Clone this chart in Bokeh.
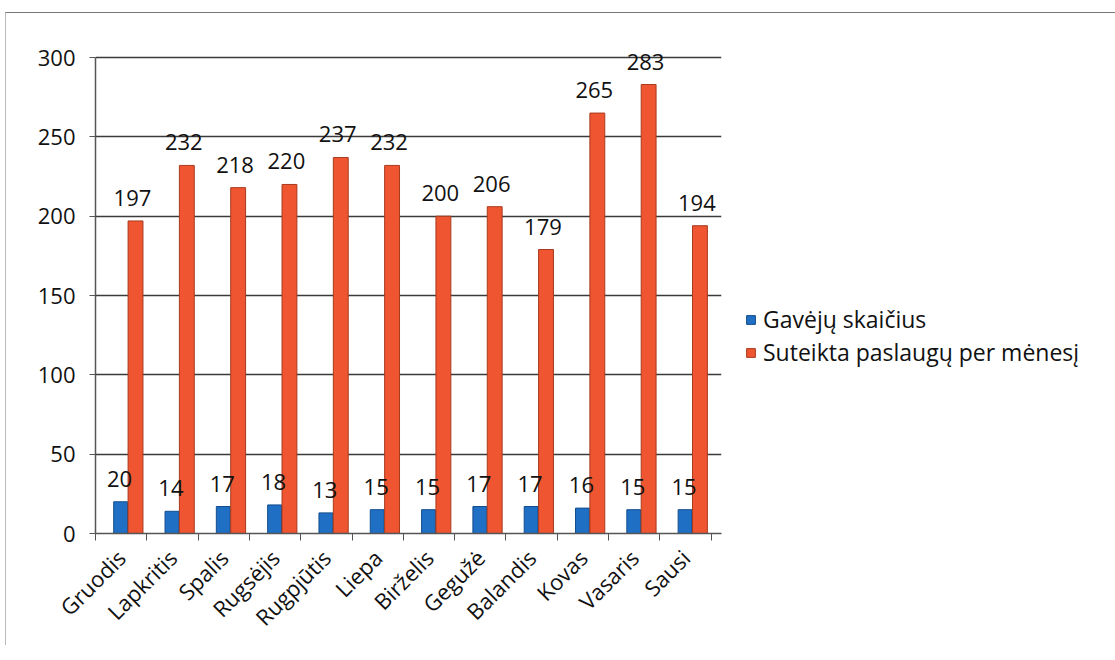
from bokeh.plotting import figure
from bokeh.models import (ColumnDataSource, Range1d, FixedTicker, LabelSet, Legend, LegendItem)
from bokeh.core.properties import value
from bokeh.embed import file_html
from bokeh.resources import INLINE
import math

months = ["Gruodis", "Lapkritis", "Spalis", "Rugsėjis", "Rugpjūtis", "Liepa",
          "Birželis", "Gegužė", "Balandis", "Kovas", "Vasaris", "Sausi"]
recipients = [20, 14, 17, 18, 13, 15, 15, 17, 17, 16, 15, 15]
services = [197, 232, 218, 220, 237, 232, 200, 206, 179, 265, 283, 194]
series_names = ["Gavėjų skaičius", "Suteikta paslaugų per mėnesį"]
y_ticks = [0, 50, 100, 150, 200, 250, 300]

BLUE = "#1f6fc5"
RED = "#ee5530"
FONT = "Open Sans"

n = len(months)
centers = [i + 0.5 for i in range(n)]
xb = [c - 0.01 for c in centers]
xr = [c + 0.28 for c in centers]

src_b = ColumnDataSource(dict(x=xb, lx=[x - 0.02 for x in xb], top=recipients,
                              lab=[str(v) for v in recipients]))
src_r = ColumnDataSource(dict(x=xr, lx=[x - 0.06 for x in xr], top=services,
                              lab=[str(v) for v in services]))

p = figure(frame_width=626, frame_height=495, output_backend="svg", toolbar_location=None,
           x_range=Range1d(0, n + 0.2), y_range=Range1d(0, 312),
           min_border_left=89, min_border_right=0, min_border_top=25, min_border_bottom=112)
p.outline_line_color = None
p.background_fill_color = "white"
p.border_fill_color = "white"

rb = p.vbar(x="x", top="top", bottom=0, width=0.27, source=src_b,
            fill_color=BLUE, line_color="#134d8c", line_width=1)
rr = p.vbar(x="x", top="top", bottom=0, width=0.29, source=src_r,
            fill_color=RED, line_color="#a83a1e", line_width=1)

for src in (src_b, src_r):
    p.add_layout(LabelSet(x="lx", y="top", text="lab", source=src, y_offset=15,
                          text_align="center", text_baseline="bottom",
                          text_font=value(FONT), text_font_size="22px", text_color="#111111"))

# x axis: category labels at centers, ticks at boundaries
p.xaxis.ticker = FixedTicker(ticks=centers, minor_ticks=list(range(n + 1)))
p.xaxis.major_label_overrides = {c: m for c, m in zip(centers, months)}
p.xaxis.major_label_orientation = math.pi / 4
p.xaxis.major_tick_out = 0
p.xaxis.major_tick_in = 0
p.xaxis.minor_tick_out = 7
p.xaxis.minor_tick_in = 0
p.xaxis.major_label_standoff = 13
p.xaxis.major_label_text_font = FONT
p.xaxis.major_label_text_font_size = "22px"
p.xaxis.major_label_text_color = "#111111"
p.xaxis.axis_line_color = "#555555"
p.xaxis.axis_line_width = 1.5
p.xaxis.minor_tick_line_color = "#555555"

p.yaxis.ticker = FixedTicker(ticks=y_ticks)
p.yaxis.bounds = (0, 300)
p.yaxis.minor_tick_line_color = None
p.yaxis.major_tick_out = 6
p.yaxis.major_tick_in = 0
p.yaxis.major_label_standoff = 14
p.yaxis.major_label_text_font = FONT
p.yaxis.major_label_text_font_size = "22px"
p.yaxis.major_label_text_color = "#111111"
p.yaxis.axis_line_color = "#555555"
p.yaxis.axis_line_width = 1.5
p.yaxis.major_tick_line_color = "#555555"

p.xgrid.grid_line_color = None
p.ygrid.ticker = FixedTicker(ticks=y_ticks)
p.ygrid.grid_line_color = "#3a3a3a"
p.ygrid.grid_line_width = 1.5

legend = Legend(items=[LegendItem(label=series_names[0], renderers=[rb]),
                       LegendItem(label=series_names[1], renderers=[rr])],
                location=(24, 165), orientation="vertical",
                glyph_width=11, glyph_height=11, label_standoff=7, spacing=1,
                padding=0, margin=0, border_line_alpha=0, background_fill_alpha=0,
                label_text_font=FONT, label_text_font_size="23px", label_text_color="#111111")
p.add_layout(legend, "right")

p.styles = {"margin-top": "12px", "margin-left": "5px",
            "border-top": "1px solid #777777", "border-left": "1px solid #bbbbbb"}

open("out.html", "w").write(file_html(p, INLINE))
